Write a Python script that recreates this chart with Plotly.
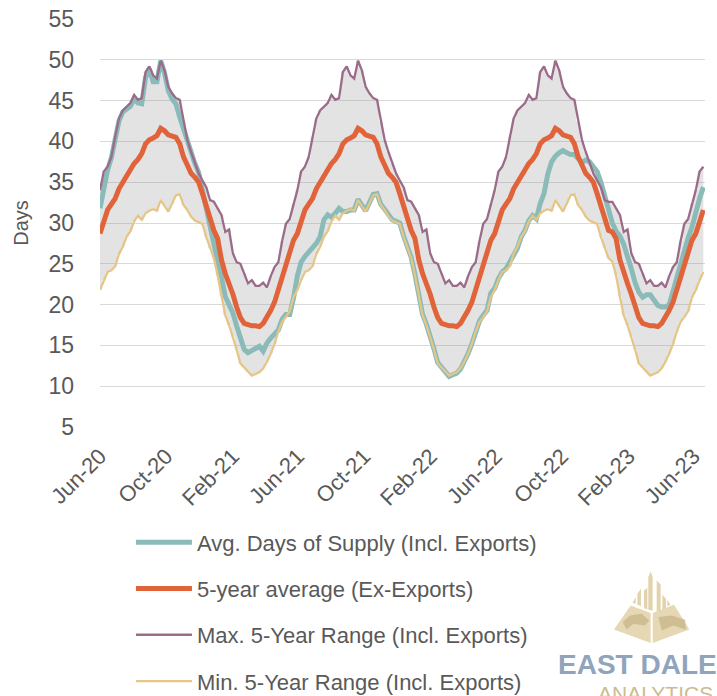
import pandas as pd
import plotly.graph_objects as go

START_DATE = "2020-06-01"
AXIS_END = "2023-06-22"
Y_TICKS = [5, 10, 15, 20, 25, 30, 35, 40, 45, 50, 55]

AVG_SUPPLY = [
    31.8,34.5,36.5,38.0,40.2,42.5,43.6,44.0,44.3,45.2,44.7,44.6,47.8,48.9,47.3,47.3,49.9,48.4,46.2,45.2,
    44.6,43.0,41.5,40.1,38.6,37.3,36.2,34.0,31.5,29.1,27.5,25.3,23.4,21.0,20.0,19.0,17.4,15.7,14.5,14.1,
    14.4,14.6,14.9,14.3,15.3,15.9,16.3,16.9,18.2,18.8,18.8,20.8,
    23.5,25.2,25.9,26.4,26.8,27.5,28.3,30.4,31.0,30.7,31.2,31.8,31.4,31.4,31.6,31.6,32.9,32.2,31.5,32.5,
    33.5,33.6,32.3,31.7,30.9,30.4,30.2,30.0,28.4,27.0,25.8,23.7,21.0,18.8,17.6,16.2,14.6,12.9,12.4,11.9,
    11.2,11.4,11.6,12.1,13.0,14.0,15.2,16.7,18.0,18.7,19.3,21.4,
    22.0,23.2,24.0,24.4,25.2,26.0,26.9,28.3,29.1,30.3,30.9,30.5,32.4,33.6,36.0,37.5,38.2,38.6,38.9,38.6,
    38.4,38.4,37.9,37.4,37.7,37.5,36.9,36.3,35.0,33.2,31.3,30.0,29.0,28.4,27.4,26.0,24.4,22.7,21.5,20.9,
    21.2,21.2,20.5,19.9,19.7,19.7,20.0,21.7,23.4,25.0,26.7,28.2,29.5,31.5,33.0,34.4,
]
FIVE_YEAR_AVG = [
    28.7,30.3,31.6,32.3,33.0,34.2,35.0,35.7,36.3,37.3,37.8,38.5,39.7,40.2,40.4,40.7,41.6,41.3,40.8,40.7,
    40.5,39.7,38.1,37.1,36.1,35.6,35.0,33.6,32.0,30.8,29.1,28.1,25.5,23.8,22.6,21.3,19.7,18.4,17.7,17.5,
    17.4,17.4,17.3,17.7,18.4,19.3,20.3,21.9,23.3,25.0,26.6,27.9,
    28.7,30.3,31.6,32.3,33.0,34.2,35.0,35.7,36.3,37.3,37.8,38.5,39.7,40.2,40.4,40.7,41.6,41.3,40.8,40.7,
    40.5,39.7,38.1,37.1,36.1,35.6,35.0,33.6,32.0,30.8,29.1,28.1,25.5,23.8,22.6,21.3,19.7,18.4,17.7,17.5,
    17.4,17.4,17.3,17.7,18.4,19.3,20.3,21.9,23.3,25.0,26.6,27.9,
    28.7,30.3,31.6,32.3,33.0,34.2,35.0,35.7,36.3,37.3,37.8,38.5,39.7,40.2,40.4,40.7,41.6,41.3,40.8,40.7,
    40.5,39.7,38.1,37.1,36.1,35.6,35.0,33.6,32.0,30.8,29.1,28.9,28.1,25.5,23.8,22.6,21.3,19.7,18.4,17.7,17.5,
    17.4,17.4,17.3,17.7,18.4,19.3,20.3,21.9,23.3,25.0,26.6,27.9,
    28.7,30.3,31.6,
]
MAX_RANGE = [
    34.0,36.3,36.9,38.1,40.6,42.8,43.8,44.2,44.7,45.7,45.1,45.3,48.5,49.2,48.1,47.7,49.9,48.7,46.7,45.9,
    45.3,45.1,42.4,40.2,38.7,37.3,36.1,35.2,34.4,32.8,32.6,31.8,31.0,28.9,29.2,26.3,25.2,25.0,23.8,22.6,
    23.0,22.3,22.3,22.7,22.1,23.5,24.6,25.2,27.8,29.9,30.5,32.4,
    34.0,36.3,36.9,38.1,40.6,42.8,43.8,44.2,44.7,45.7,45.1,45.3,48.5,49.2,48.1,47.7,49.9,48.7,46.7,45.9,
    45.3,45.1,42.4,40.2,38.7,37.3,36.1,35.2,34.4,32.8,32.6,31.8,31.0,28.9,29.2,26.3,25.2,25.0,23.8,22.6,
    23.0,22.3,22.3,22.7,22.1,23.5,24.6,25.2,27.8,29.9,30.5,32.4,
    34.0,36.3,36.9,38.1,40.6,42.8,43.8,44.2,44.7,45.7,45.1,45.3,48.5,49.2,48.1,47.7,49.9,48.7,46.7,45.9,
    45.3,45.1,42.4,40.2,38.7,37.3,36.1,35.2,34.4,32.8,32.6,32.6,31.8,31.0,28.9,29.2,26.3,25.2,25.0,23.8,22.6,
    23.0,22.3,22.3,22.7,22.1,23.5,24.6,25.2,27.8,29.9,30.5,32.4,
    34.0,36.3,36.9,
]
MIN_RANGE = [
    21.8,23.0,24.0,24.2,24.7,26.2,27.1,28.3,29.0,30.2,30.9,30.4,31.2,31.5,31.7,31.5,32.8,32.1,31.4,32.4,
    33.4,33.5,32.2,31.6,30.8,30.3,30.1,29.9,28.3,26.9,25.7,23.6,21.0,18.7,17.5,16.1,14.5,12.8,12.3,11.8,
    11.3,11.5,11.7,12.2,13.0,14.0,15.2,16.7,17.9,18.5,19.2,20.9,
    21.8,23.0,24.0,24.2,24.7,26.2,27.1,28.3,29.0,30.2,30.9,30.4,31.2,31.5,31.7,31.5,32.8,32.1,31.4,32.4,
    33.4,33.5,32.2,31.6,30.8,30.3,30.1,29.9,28.3,26.9,25.7,23.6,21.0,18.7,17.5,16.1,14.5,12.8,12.3,11.8,
    11.3,11.5,11.7,12.2,13.0,14.0,15.2,16.7,17.9,18.5,19.2,20.9,
    21.8,23.0,24.0,24.2,24.7,26.2,27.1,28.3,29.0,30.2,30.9,30.4,31.2,31.5,31.7,31.5,32.8,32.1,31.4,32.4,
    33.4,33.5,32.2,31.6,30.8,30.3,30.1,29.9,28.3,26.9,25.7,25.3,23.6,21.0,18.7,17.5,16.1,14.5,12.8,12.3,11.8,
    11.3,11.5,11.7,12.2,13.0,14.0,15.2,16.7,17.9,18.5,19.2,20.9,
    21.8,23.0,24.0,
]

dates = pd.date_range(START_DATE, periods=len(MAX_RANGE), freq="7D")

FONT = "Liberation Sans"
GREY = "#595959"
W, H = 717, 696
L, R, T, B = 100, 705, 19, 426.7


def px(x, y):
    return (x - L) / (R - L), (B - y) / (B - T)


def path(points):
    parts = []
    for i, (x, y) in enumerate(points):
        a, b = px(530 + x / 3, 560 + y / 3)
        parts.append(("M" if i == 0 else "L") + f"{a:.4f},{b:.4f}")
    return " ".join(parts) + " Z"


def logo_shape(points, colour):
    return dict(type="path", xref="paper", yref="paper", path=path(points),
                fillcolor=colour, line=dict(width=0), layer="above")


TAN, TOWER, DARK = "#E6D8B4", "#E2D3AD", "#CFBE94"
logo = [
    logo_shape([(302, 135), (362, 158), (362, 248), (252, 207)], TAN),
    logo_shape([(368, 158), (432, 133), (478, 207), (368, 248)], TAN),
    logo_shape([(355, 148), (355, 50), (362, 33), (368, 50), (368, 150)], TOWER),
    logo_shape([(380, 155), (380, 60), (392, 72), (392, 150)], TOWER),
    logo_shape([(342, 143), (342, 90), (352, 82), (352, 148)], TOWER),
    logo_shape([(322, 133), (322, 100), (333, 85), (333, 137)], TOWER),
    logo_shape([(308, 128), (317, 110), (317, 130)], TOWER),
    logo_shape([(397, 148), (397, 103), (408, 115), (408, 143)], TOWER),
    logo_shape([(412, 138), (412, 118), (421, 132)], TOWER),
    logo_shape([(278, 185), (300, 165), (335, 160), (358, 180), (345, 195), (310, 190), (290, 207)], DARK),
    logo_shape([(385, 170), (425, 165), (465, 178), (468, 208), (430, 195), (395, 210)], DARK),
]

fig = go.Figure()
fig.add_trace(go.Scatter(x=dates, y=MAX_RANGE, mode="lines", line=dict(width=0, shape="hvh"),
                         showlegend=False, hoverinfo="skip"))
fig.add_trace(go.Scatter(x=dates, y=MIN_RANGE, mode="lines", line=dict(width=0, shape="hvh"),
                         fill="tonexty", fillcolor="rgba(150,150,150,0.27)",
                         showlegend=False, hoverinfo="skip"))

series = [
    ("Avg. Days of Supply (Incl. Exports)", AVG_SUPPLY, "#8ABBB9", 5),
    ("5-year average (Ex-Exports)", FIVE_YEAR_AVG, "#E0633A", 5),
    ("Max. 5-Year Range (Incl. Exports)", MAX_RANGE, "#9B6B8A", 2.3),
    ("Min. 5-Year Range (Incl. Exports)", MIN_RANGE, "#E5C687", 2.3),
]
for name, values, colour, width in series:
    fig.add_trace(go.Scatter(x=dates, y=values, mode="lines", name=name, legendgroup=name,
                             line=dict(color=colour, width=width)))

grid = dict(showgrid=True, gridcolor="#D9D9D9", gridwidth=1.4)
fig.update_layout(
    width=W, height=H, autosize=False,
    margin=dict(l=L, r=W - R, t=T, b=H - B, autoexpand=False),
    paper_bgcolor="white", plot_bgcolor="white",
    font=dict(family=FONT, color=GREY, size=22),
    xaxis=dict(type="date", range=[START_DATE, AXIS_END], tick0=START_DATE, dtick="M4",
               tickformat="%b-%y", tickangle=-45, showgrid=False, zeroline=False,
               showline=False, ticks="", tickfont=dict(size=22), automargin=False,
               ticklabelstandoff=11),
    yaxis=dict(range=[5, 55], tickvals=Y_TICKS, zeroline=False, showline=False, ticks="",
               tickfont=dict(size=23), automargin=False, ticklabelstandoff=25,
               title=dict(text="Days", font=dict(size=20), standoff=14), **grid),
    legend=dict(x=(137 - L) / (R - L) - 0.01, y=(B - 521) / (B - T), xanchor="left", yanchor="top",
                traceorder="grouped", tracegroupgap=14.7, itemwidth=56,
                font=dict(size=22, color=GREY), bgcolor="rgba(0,0,0,0)", itemclick=False),
    shapes=logo,
    annotations=[
        dict(text="<b>EAST DALE</b>", xref="paper", yref="paper", x=px(557, 0)[0], y=px(0, 681)[1],
             xanchor="left", yanchor="bottom", showarrow=False, font=dict(size=28, color="#90A4BC",
             family=FONT), borderpad=0),
        dict(text="ANALYTICS", xref="paper", yref="paper", x=px(597, 0)[0], y=px(0, 681)[1],
             xanchor="left", yanchor="top", showarrow=False, font=dict(size=21, color="#CDBB90",
             family=FONT), borderpad=0),
    ],
)

fig.write_html("out.html", config=dict(displayModeBar=False),
               post_script="document.body.style.margin='0';document.body.style.overflow='hidden';")
